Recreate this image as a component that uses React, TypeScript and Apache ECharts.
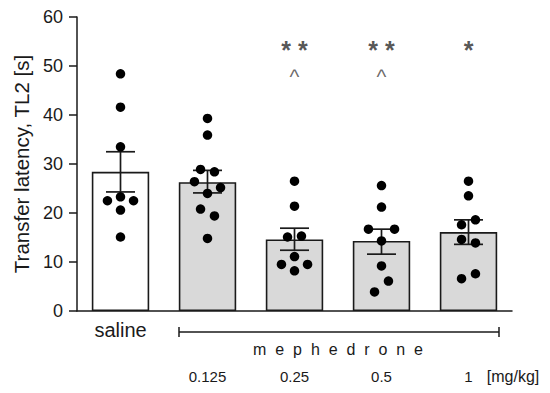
import React, { useEffect, useRef } from "react";
import * as echarts from "echarts";

const categories = ["saline", "0.125", "0.25", "0.5", "1"];
const meanValues = [28.4, 26.3, 14.6, 14.3, 16.1];
const semLow = [24.3, 24.1, 12.4, 11.6, 13.6];
const semHigh = [32.5, 28.7, 16.9, 16.7, 18.6];
const barColors = ["#ffffff", "#d9d9d9", "#d9d9d9", "#d9d9d9", "#d9d9d9"];

// individual points: [jitter (category units), value]
const salinePoints = [[0, 48.4], [0, 41.6], [0, 33.5], [0, 23.3], [-0.15, 22.5], [0.15, 22.5], [0, 20.6], [0, 15.1]];
const dose0125Points = [[0, 39.3], [0, 35.9], [-0.08, 28.9], [0.08, 28.4], [-0.15, 26.4], [0.15, 25.2], [0, 24.0], [-0.08, 20.8], [0.08, 19.4], [0, 14.8]];
const dose025Points = [[0, 26.5], [0, 21.4], [-0.08, 15.1], [0.08, 15.3], [0, 11.1], [-0.15, 9.5], [0.15, 9.5], [0, 8.2]];
const dose05Points = [[0, 25.6], [0, 21.2], [-0.15, 16.7], [0.15, 16.7], [0, 14.3], [0, 9.2], [0.08, 6.1], [-0.08, 3.9]];
const dose1Points = [[0, 26.5], [0, 23.5], [0.08, 18.6], [-0.08, 17.6], [-0.08, 14.6], [0.08, 13.9], [-0.08, 6.6], [0.08, 7.6]];
const groupPoints = [salinePoints, dose0125Points, dose025Points, dose05Points, dose1Points];

const starLabels = ["", "", "* *", "* *", "*"];
const caretLabels = ["", "", "^", "^", ""];
const starLevel = 54.3;
const caretLevel = 48.6;

const yTicks = { min: 0, max: 60, interval: 10 };
const FONT = "Arial, 'Liberation Sans', sans-serif";
const TXT = "#1a1a1a";

export default function App() {
  const ref = useRef<HTMLDivElement>(null);
  useEffect(() => {
    if (!ref.current) return;
    const chart = echarts.init(ref.current, null, { renderer: "svg" });
    const scatterData: number[][] = [];
    groupPoints.forEach((pts, i) => pts.forEach(([j, v]) => scatterData.push([i + j, v])));
    const starData = categories.map((_, i) => ({ value: [i, starLevel], label: { formatter: starLabels[i] } }));
    const caretData = categories.map((_, i) => ({ value: [i, caretLevel], label: { formatter: caretLabels[i] } }));
    const gap = "\u00A0\u00A0";

    chart.setOption({
      animation: false,
      backgroundColor: "#ffffff",
      grid: { left: 77, right: 38, top: 17, bottom: 82 },
      xAxis: [
        {
          type: "category",
          data: categories,
          axisLine: { lineStyle: { color: "#1a1a1a", width: 1.5 } },
          axisTick: { show: false },
          axisLabel: {
            fontFamily: FONT, fontSize: 20, color: TXT, margin: 9,
            formatter: (v: string, i: number) => (i === 0 ? v : ""),
          },
        },
        {
          type: "category",
          data: categories,
          position: "bottom",
          axisLine: { show: false },
          axisTick: { show: false },
          axisLabel: {
            fontFamily: FONT, fontSize: 15, color: TXT, margin: 58,
            formatter: (v: string, i: number) => (i === 0 ? "" : v),
          },
        },
        { type: "value", min: -0.5, max: 4.5, show: false },
      ],
      yAxis: {
        type: "value",
        min: yTicks.min,
        max: yTicks.max,
        interval: yTicks.interval,
        name: "Transfer latency, TL2 [s]",
        nameLocation: "middle",
        nameGap: 45,
        nameTextStyle: { fontFamily: FONT, fontSize: 20.5, color: TXT },
        splitLine: { show: false },
        axisLine: { show: true, onZero: false, lineStyle: { color: "#1a1a1a", width: 1.5 } },
        axisTick: { show: true, length: 8, lineStyle: { color: "#1a1a1a", width: 1.5 } },
        axisLabel: { fontFamily: FONT, fontSize: 18, color: TXT, margin: 14 },
      },
      series: [
        {
          type: "bar",
          xAxisIndex: 0,
          barWidth: "66%",
          data: meanValues.map((v, i) => ({
            value: v,
            itemStyle: { color: barColors[i], borderColor: "#1a1a1a", borderWidth: 1.6 },
          })),
          z: 1,
        },
        {
          type: "custom",
          xAxisIndex: 0,
          data: categories.map((_, i) => [i, semLow[i], semHigh[i]]),
          renderItem: (params: any, api: any) => {
            const lo = api.coord([api.value(0), api.value(1)]);
            const hi = api.coord([api.value(0), api.value(2)]);
            const hw = 14.5;
            const style = { stroke: "#1a1a1a", lineWidth: 1.7 };
            return {
              type: "group",
              children: [
                { type: "line", shape: { x1: lo[0], y1: lo[1], x2: hi[0], y2: hi[1] }, style },
                { type: "line", shape: { x1: lo[0] - hw, y1: lo[1], x2: lo[0] + hw, y2: lo[1] }, style },
                { type: "line", shape: { x1: hi[0] - hw, y1: hi[1], x2: hi[0] + hw, y2: hi[1] }, style },
              ],
            };
          },
          z: 3,
        },
        {
          type: "scatter",
          xAxisIndex: 2,
          symbol: "circle",
          symbolSize: 9.5,
          itemStyle: { color: "#000", opacity: 1 },
          data: scatterData,
          z: 4,
        },
        {
          type: "scatter",
          xAxisIndex: 2,
          symbolSize: 0,
          data: starData,
          label: { show: true, position: "inside", fontFamily: FONT, fontWeight: "bold", fontSize: 25, color: "#2a2a2a", offset: [0, 5] },
          z: 5,
        },
        {
          type: "scatter",
          xAxisIndex: 2,
          symbolSize: 0,
          data: caretData,
          label: { show: true, position: "inside", fontFamily: FONT, fontSize: 21, color: "#444", offset: [0, 4] },
          z: 5,
        },
      ],
      graphic: [
        {
          type: "group",
          children: [
            { type: "line", shape: { x1: 179, y1: 332, x2: 499, y2: 332 }, style: { stroke: "#1a1a1a", lineWidth: 1.5 } },
            { type: "line", shape: { x1: 179, y1: 327, x2: 179, y2: 337 }, style: { stroke: "#1a1a1a", lineWidth: 1.5 } },
            { type: "line", shape: { x1: 499, y1: 327, x2: 499, y2: 337 }, style: { stroke: "#1a1a1a", lineWidth: 1.5 } },
          ],
        },
        {
          type: "text",
          x: 338,
          y: 349,
          style: {
            text: ["m", "e", "p", "h", "e", "d", "r", "o", "n", "e"].join(gap),
            font: `16px ${FONT}`,
            fill: TXT,
            align: "center",
            verticalAlign: "middle",
          },
        },
        {
          type: "text",
          x: 513,
          y: 376,
          style: { text: "[mg/kg]", font: `16px ${FONT}`, fill: TXT, align: "center", verticalAlign: "middle" },
        },
      ],
    });
    return () => chart.dispose();
  }, []);
  return <div ref={ref} style={{ position: "fixed", left: 0, top: 0, width: 550, height: 393 }} />;
}
